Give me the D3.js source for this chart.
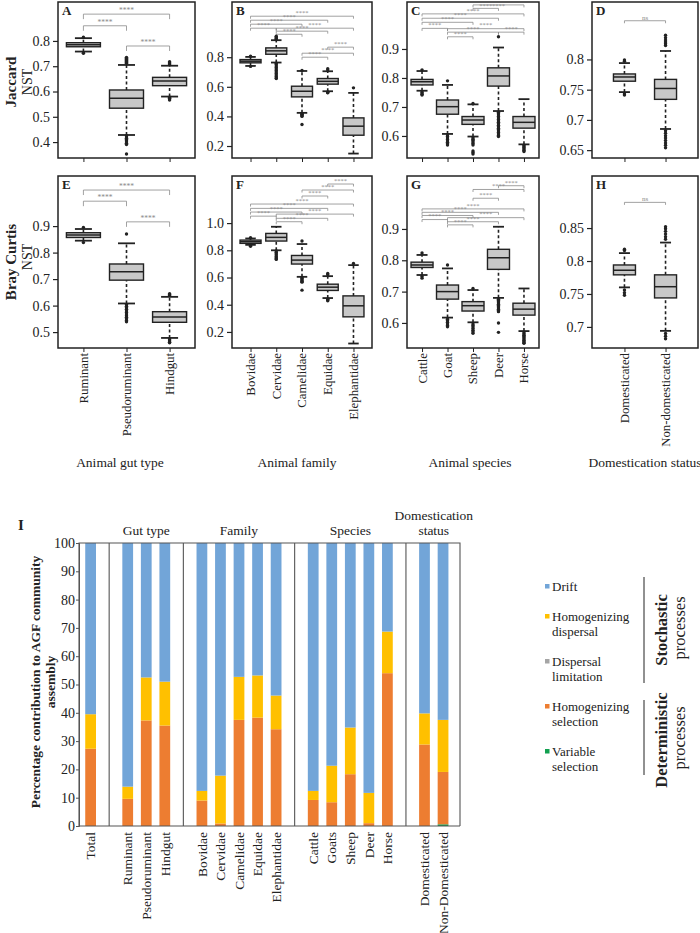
<!DOCTYPE html>
<html>
<head>
<meta charset="utf-8">
<script src="https://cdn.jsdelivr.net/npm/d3@7"></script>
<style>
body{margin:0;background:#fff;}
svg{display:block;font-family:"Liberation Serif","Times New Roman",serif;}
</style>
</head>
<body>
<svg id="fig" width="700" height="933"></svg>
<script>
// ---- categories
var gutTypes = ["Ruminant","Pseudoruminant","Hindgut"];
var families = ["Bovidae","Cervidae","Camelidae","Equidae","Elephantidae"];
var species = ["Cattle","Goat","Sheep","Deer","Horse"];
var domestication = ["Domesticated","Non-domesticated"];

// ---- NST box stats : [low whisker, q1, median, q3, high whisker]
var jacGut = [[0.758,0.777,0.785,0.793,0.811],[0.428,0.534,0.573,0.606,0.705],[0.58,0.623,0.642,0.656,0.702]];
var jacFam = [[0.741,0.762,0.773,0.784,0.802],[0.764,0.82,0.843,0.863,0.915],[0.424,0.532,0.57,0.604,0.707],[0.57,0.618,0.637,0.656,0.705],[0.149,0.273,0.334,0.39,0.559]];
var jacSpe = [[0.756,0.776,0.787,0.795,0.824],[0.607,0.675,0.701,0.724,0.776],[0.598,0.64,0.655,0.667,0.709],[0.686,0.772,0.807,0.835,0.905],[0.571,0.627,0.647,0.667,0.727]];
var jacDom = [[0.746,0.764,0.771,0.776,0.794],[0.685,0.734,0.752,0.767,0.814]];
var brayGut = [[0.845,0.857,0.866,0.875,0.889],[0.608,0.696,0.728,0.757,0.835],[0.478,0.537,0.557,0.577,0.633]];
var brayFam = [[0.84,0.851,0.863,0.875,0.887],[0.80,0.868,0.895,0.924,0.973],[0.605,0.699,0.728,0.762,0.846],[0.449,0.505,0.529,0.551,0.61],[0.115,0.311,0.392,0.465,0.691]];
var braySpe = [[0.753,0.777,0.785,0.794,0.817],[0.617,0.676,0.70,0.721,0.774],[0.602,0.638,0.655,0.668,0.705],[0.68,0.771,0.808,0.835,0.907],[0.574,0.625,0.644,0.663,0.71]];
var brayDom = [[0.76,0.779,0.786,0.794,0.812],[0.694,0.744,0.761,0.779,0.828]];

// ---- outliers
var jacGutOut = [[0.815,0.753,0.751],
  [0.712,0.716,0.72,0.724,0.728,0.732,0.735,0.425,0.42,0.415,0.41,0.405,0.40,0.395,0.39,0.353],
  [0.706,0.71,0.714,0.718,0.577,0.573,0.57,0.566]];
var jacFamOut = [[0.806,0.738],
  [0.92,0.925,0.93,0.936,0.942,0.76,0.75,0.74,0.73,0.72,0.71,0.70,0.69,0.68,0.67,0.66,0.656],
  [0.71,0.42,0.415,0.41,0.405,0.40,0.345],
  [0.713,0.722,0.566,0.562,0.56],
  [0.593]];
var jacSpeOut = [[0.828,0.752,0.748,0.744,0.741],
  [0.79,0.603,0.598,0.593,0.588,0.583,0.578,0.573,0.569],
  [0.712,0.594,0.589,0.584,0.579,0.574,0.569,0.548,0.543,0.538],
  [0.942,0.682,0.677,0.672,0.667,0.662,0.657,0.652,0.647,0.642,0.637,0.632,0.627,0.622,0.617,0.612,0.607,0.602,0.598],
  [0.567,0.563,0.559,0.555,0.551,0.546]];
var jacDomOut = [[0.797,0.799,0.743,0.741],
  [0.823,0.826,0.829,0.832,0.836,0.84,0.682,0.678,0.674,0.67,0.666,0.662,0.658,0.654]];
var brayGutOut = [[0.895,0.838],
  [0.87,0.604,0.598,0.592,0.586,0.58,0.574,0.568,0.562,0.556,0.55,0.544,0.539],
  [0.638,0.642,0.645,0.474,0.47,0.466,0.462,0.46]];
var brayFamOut = [[0.892,0.835,0.83],
  [0.795,0.785,0.775,0.765,0.755,0.745,0.738,0.733],
  [0.868,0.60,0.592,0.584,0.576,0.57,0.566,0.507],
  [0.62,0.63,0.44,0.435,0.429],
  [0.703]];
var braySpeOut = [[0.823,0.748,0.743],
  [0.785,0.612,0.607,0.602,0.597,0.592,0.588],
  [0.71,0.597,0.592,0.587,0.582,0.577,0.572,0.567],
  [0.676,0.672,0.668,0.664,0.66,0.656,0.652,0.648,0.644,0.64,0.636,0.60,0.57],
  [0.569,0.565,0.561,0.557,0.553,0.549,0.545,0.541,0.537,0.535]];
var brayDomOut = [[0.816,0.818,0.756,0.752,0.748],
  [0.833,0.837,0.841,0.845,0.849,0.852,0.69,0.686,0.682]];

// ---- significance : [group i, group j, level, label]
var jacGutSig = [[0,2,0.906,"****"],[0,1,0.86,"****"],[1,2,0.78,"****"]];
var jacFamSig = [[0,4,1.077,"****"],[0,3,1.05,"****"],[0,2,1.023,"****"],[0,1,0.996,"****"],[1,4,0.996,"****"],
  [1,3,0.976,"****"],[1,2,0.955,"****"],[3,4,0.868,"****"],[2,4,0.827,"****"],[2,3,0.80,"****"]];
var jacSpeSig = [[2,4,1.052,"****"],[2,3,1.04,"****"],[0,4,1.021,"****"],[0,3,1.006,"****"],[0,2,0.992,"****"],
  [0,1,0.971,"****"],[1,4,0.970,"****"],[1,3,0.958,"****"],[3,4,0.958,"****"],[1,2,0.942,"****"]];
var jacDomSig = [[0,1,0.864,"ns"]];
var brayGutSig = [[0,2,1.036,"****"],[0,1,0.994,"****"],[1,2,0.916,"****"]];
var brayFamSig = [[3,4,1.287,"****"],[2,4,1.243,"****"],[2,3,1.199,"****"],[0,4,1.14,"****"],[0,3,1.108,"****"],
  [0,2,1.081,"****"],[1,4,1.066,"****"],[0,1,1.051,"****"],[1,3,1.035,"****"],[1,2,1.01,"****"]];
var braySpeSig = [[3,4,1.038,"****"],[2,4,1.026,"****"],[2,3,0.998,"****"],[0,4,0.964,"****"],[0,3,0.953,"****"],
  [0,2,0.943,"****"],[1,4,0.936,"****"],[0,1,0.93,"****"],[1,3,0.923,"****"],[1,2,0.913,"****"]];
var brayDomSig = [[0,1,0.889,"ns"]];

// ---- y ticks
var ticksGut = [0.4,0.5,0.6,0.7,0.8];
var ticksFam = [0.2,0.4,0.6,0.8];
var ticksSpe = [0.6,0.7,0.8,0.9];
var ticksDom = [0.65,0.7,0.75,0.8];
var ticksGut2 = [0.5,0.6,0.7,0.8,0.9];
var ticksFam2 = [0.2,0.4,0.6,0.8,1.0];
var ticksDom2 = [0.7,0.75,0.8,0.85];

// ---- panel I : % contribution
var barGroups = [["Total"],["Ruminant","Pseudoruminant","Hindgut"],
  ["Bovidae","Cervidae","Camelidae","Equidae","Elephantidae"],
  ["Cattle","Goats","Sheep","Deer","Horse"],["Domesticated","Non-Domesticated"]];
var groupTitles = [[],["Gut type"],["Family"],["Species"],["Domestication","status"]];
var barCats = ["Total","Ruminant","Pseudoruminant","Hindgut","Bovidae","Cervidae","Camelidae","Equidae","Elephantidae",
  "Cattle","Goats","Sheep","Deer","Horse","Domesticated","Non-Domesticated"];
var varSel  = [0,0,0,0,0,0,0,0,0,0,0,0,0,0,0,0.6];
var homSel  = [27.3,9.6,37.3,35.5,9.0,0.9,37.5,38.3,34.2,9.2,8.4,18.3,1.0,54.0,28.8,18.5];
var dispLim = [0,0,0,0,0,0,0,0,0,0,0,0,0,0,0,0];
var homDisp = [12.2,4.3,15.2,15.5,3.4,16.9,15.2,14.9,11.9,3.2,12.9,16.5,10.7,14.7,11.0,18.4];
var drift   = [60.5,86.1,47.5,49.0,87.6,82.2,47.3,46.8,53.9,87.6,78.7,65.2,88.3,31.3,60.2,62.5];
var barTicks = [0,10,20,30,40,50,60,70,80,90,100];

var legendKeys = ["drift","homDisp","dispLim","homSel","varSel"];
var legendLabels = [["Drift"],["Homogenizing","dispersal"],["Dispersal","limitation"],["Homogenizing","selection"],["Variable","selection"]];
var colors = {drift:"#72a5d8", homDisp:"#ffc000", dispLim:"#a5a5a5", homSel:"#ed7d31", varSel:"#12a050"};

var svg = d3.select("#fig");
var ink = "#222";

// mise en page des panneaux
var colLayout = [
  {x0:58, x1:195, pad:0.59, boxW:34, drop:5, star:7.5},
  {x0:232, x1:372, pad:0.72, boxW:21, drop:2.5, star:6.5},
  {x0:407, x1:539, pad:0.59, boxW:22, drop:2.5, star:6.5},
  {x0:592, x1:698, pad:0.79, boxW:22, drop:2.5, star:7}
];
var rowLayout = [{y0:2, y1:158},{y0:176, y1:348}];

var panels = [
  {lab:"A",row:0,col:0,cats:gutTypes,st:jacGut,out:jacGutOut,sig:jacGutSig,dom:[0.337,0.954],ticks:ticksGut,fmt:".1f"},
  {lab:"B",row:0,col:1,cats:families,st:jacFam,out:jacFamOut,sig:jacFamSig,dom:[0.119,1.173],ticks:ticksFam,fmt:".1f"},
  {lab:"C",row:0,col:2,cats:species,st:jacSpe,out:jacSpeOut,sig:jacSpeSig,dom:[0.524,1.062],ticks:ticksSpe,fmt:".1f"},
  {lab:"D",row:0,col:3,cats:domestication,st:jacDom,out:jacDomOut,sig:jacDomSig,dom:[0.637,0.895],ticks:ticksDom,fmt:null},
  {lab:"E",row:1,col:0,cats:gutTypes,st:brayGut,out:brayGutOut,sig:brayGutSig,dom:[0.44,1.089],ticks:ticksGut2,fmt:".1f"},
  {lab:"F",row:1,col:1,cats:families,st:brayFam,out:brayFamOut,sig:brayFamSig,dom:[0.082,1.346],ticks:ticksFam2,fmt:".1f"},
  {lab:"G",row:1,col:2,cats:species,st:braySpe,out:braySpeOut,sig:braySpeSig,dom:[0.52,1.069],ticks:ticksSpe,fmt:".1f"},
  {lab:"H",row:1,col:3,cats:domestication,st:brayDom,out:brayDomOut,sig:brayDomSig,dom:[0.668,0.929],ticks:ticksDom2,fmt:null}
];

function drawPanel(p){
  var c = colLayout[p.col], r = rowLayout[p.row];
  var g = svg.append("g");
  var x = d3.scalePoint().domain(p.cats).range([c.x0,c.x1]).padding(c.pad);
  var y = d3.scaleLinear().domain(p.dom).range([r.y1,r.y0]);
  var fmt = p.fmt ? d3.format(p.fmt) : function(d){return String(d);};

  // axes
  var ya = g.append("g").attr("transform","translate("+c.x0+",0)")
    .call(d3.axisLeft(y).tickValues(p.ticks).tickSize(5).tickPadding(3).tickFormat(fmt));
  ya.select(".domain").remove();
  ya.attr("font-family",null).attr("font-size",14);
  ya.selectAll("line").attr("stroke",ink).attr("stroke-width",1.2);
  ya.selectAll("text").attr("fill",ink);

  var xa = g.append("g").attr("transform","translate(0,"+r.y1+")")
    .call(d3.axisBottom(x).tickSize(4).tickFormat(""));
  xa.select(".domain").remove();
  xa.selectAll("line").attr("stroke",ink).attr("stroke-width",1);

  if(p.row==1){
    g.selectAll(".xlab").data(p.cats).enter().append("text")
      .attr("transform",function(d){return "translate("+x(d)+","+(r.y1+5)+") rotate(-90)";})
      .attr("dy","0.35em").attr("text-anchor","end").attr("font-size",12.8).attr("fill",ink)
      .text(function(d){return d;});
  }

  // brackets
  p.sig.forEach(function(s){
    var xa1 = x(p.cats[s[0]]), xa2 = x(p.cats[s[1]]), yy = y(s[2]);
    g.append("path").attr("d","M"+xa1+","+(yy+c.drop)+"V"+yy+"H"+xa2+"V"+(yy+c.drop))
      .attr("fill","none").attr("stroke","#8a8a8a").attr("stroke-width",0.8);
    g.append("text").attr("x",(xa1+xa2)/2).attr("y",Math.max(yy-1.2,r.y0+6)).attr("text-anchor","middle")
      .attr("font-size",c.star).attr("fill","#8a8a8a").text(s[3]);
  });

  // boxes
  p.cats.forEach(function(cat,i){
    var s = p.st[i], cx = x(cat), w = c.boxW;
    g.append("line").attr("x1",cx).attr("x2",cx).attr("y1",y(s[0])).attr("y2",y(s[1]))
      .attr("stroke",ink).attr("stroke-width",1.6).attr("stroke-dasharray","3,2.5");
    g.append("line").attr("x1",cx).attr("x2",cx).attr("y1",y(s[3])).attr("y2",y(s[4]))
      .attr("stroke",ink).attr("stroke-width",1.6).attr("stroke-dasharray","3,2.5");
    [s[0],s[4]].forEach(function(v){
      g.append("line").attr("x1",cx-w/4).attr("x2",cx+w/4).attr("y1",y(v)).attr("y2",y(v))
        .attr("stroke",ink).attr("stroke-width",1.8);
    });
    g.append("rect").attr("x",cx-w/2).attr("y",y(s[3])).attr("width",w).attr("height",y(s[1])-y(s[3]))
      .attr("fill","#c8c8c8").attr("stroke",ink).attr("stroke-width",1.4);
    g.append("line").attr("x1",cx-w/2).attr("x2",cx+w/2).attr("y1",y(s[2])).attr("y2",y(s[2]))
      .attr("stroke",ink).attr("stroke-width",1.5);
    g.selectAll(null).data(p.out[i]).enter().append("circle")
      .attr("cx",cx).attr("cy",function(d){return y(d);}).attr("r",1.7).attr("fill",ink);
  });

  // cadre + lettre
  g.append("rect").attr("x",c.x0).attr("y",r.y0).attr("width",c.x1-c.x0).attr("height",r.y1-r.y0)
    .attr("fill","none").attr("stroke",ink).attr("stroke-width",1.5);
  g.append("text").attr("x",c.x0+4).attr("y",r.y0+13).attr("font-size",13).attr("font-weight","bold")
    .attr("fill",ink).text(p.lab);
}

panels.forEach(drawPanel);

// titres lignes / colonnes
function vtext(txt,x,y,size,bold){
  svg.append("text").attr("transform","translate("+x+","+y+") rotate(-90)").attr("text-anchor","middle")
    .attr("font-size",size).attr("font-weight",bold?"bold":"normal").attr("fill",ink).text(txt);
}
vtext("Jaccard",16,82,15,true);
vtext("NST",32,82,14,false);
vtext("Bray Curtis",16,262,15,true);
vtext("NST",32,257,14,false);

var colTitles = ["Animal gut type","Animal family","Animal species","Domestication status"];
var colTitleX = [120,297,470,645];
colTitles.forEach(function(t,i){
  svg.append("text").attr("x",colTitleX[i]).attr("y",467).attr("text-anchor","middle")
    .attr("font-size",13.5).attr("fill",ink).text(t);
});

// ---- panel I
var slots = [];
barGroups.forEach(function(gr,i){
  if(i>0) slots.push("_sep"+i);
  gr.forEach(function(d){slots.push(d);});
});
var xb = d3.scaleBand().domain(slots).range([79,460]).paddingInner(0.42).paddingOuter(0.48).align(0.35);
var yb = d3.scaleLinear().domain([0,100]).range([826,543]);

var rows = barCats.map(function(c,i){
  return {cat:c, varSel:varSel[i], homSel:homSel[i], dispLim:dispLim[i], homDisp:homDisp[i], drift:drift[i]};
});
var stacked = d3.stack().keys(["varSel","homSel","dispLim","homDisp","drift"])(rows);

var gb = svg.append("g");
gb.selectAll(".layer").data(stacked).enter().append("g")
  .attr("fill",function(d){return colors[d.key];})
  .selectAll("rect").data(function(d){return d;}).enter().append("rect")
  .attr("x",function(d){return xb(d.data.cat);})
  .attr("width",xb.bandwidth())
  .attr("y",function(d){return yb(d[1]);})
  .attr("height",function(d){return yb(d[0])-yb(d[1]);});

// separateurs + cadre
slots.filter(function(s){return s.indexOf("_sep")==0;}).forEach(function(s){
  var sx = xb(s)+xb.bandwidth()/2;
  gb.append("line").attr("x1",sx).attr("x2",sx).attr("y1",543).attr("y2",826).attr("stroke","#555").attr("stroke-width",1.1);
});
gb.append("path").attr("d","M79,826V543H460V826").attr("fill","none").attr("stroke","#555").attr("stroke-width",1.1);

var yba = gb.append("g").attr("transform","translate(79,0)")
  .call(d3.axisLeft(yb).tickValues(barTicks).tickSize(3).tickPadding(1));
yba.attr("font-family",null).attr("font-size",14);
yba.select(".domain").attr("stroke","#555");
yba.selectAll("line").attr("stroke","#555");
yba.selectAll("text").attr("fill",ink);
gb.append("line").attr("x1",79).attr("x2",460).attr("y1",826).attr("y2",826).attr("stroke","#555").attr("stroke-width",1.1);

gb.selectAll(".blab").data(barCats).enter().append("text")
  .attr("transform",function(d){return "translate("+(xb(d)+xb.bandwidth()/2)+",832) rotate(-90)";})
  .attr("dy","0.35em").attr("text-anchor","end").attr("font-size",13.5).attr("fill",ink)
  .text(function(d){return d;});

// titres des groupes
barGroups.forEach(function(gr,i){
  var t = groupTitles[i];
  if(!t.length) return;
  var cx = (xb(gr[0])+xb(gr[gr.length-1])+xb.bandwidth())/2;
  t.forEach(function(line,k){
    gb.append("text").attr("x",cx).attr("y",535-(t.length-1-k)*15).attr("text-anchor","middle")
      .attr("font-size",13.5).attr("fill",ink).text(line);
  });
});

svg.append("text").attr("x",18).attr("y",530).attr("font-size",15).attr("font-weight","bold").attr("fill",ink).text("I");
vtext("Percentage contribution to AGF community",40,682,13.5,true);
vtext("assembly",55,682,13.5,true);

// legende
var ly = 586;
legendKeys.forEach(function(k,i){
  var lines = legendLabels[i];
  svg.append("rect").attr("x",545).attr("y",ly-2).attr("width",4.5).attr("height",4.5).attr("fill",colors[k]);
  lines.forEach(function(l,j){
    svg.append("text").attr("x",552).attr("y",ly+4.5+j*15).attr("font-size",13).attr("fill",ink).text(l);
  });
  ly += lines.length*15+15;
});
svg.append("line").attr("x1",644).attr("x2",644).attr("y1",577).attr("y2",683).attr("stroke",ink).attr("stroke-width",1);
svg.append("line").attr("x1",644).attr("x2",644).attr("y1",700).attr("y2",775).attr("stroke",ink).attr("stroke-width",1);
vtext("Stochastic",667,630,16.5,true);
vtext("processes",685,628,16.5,false);
vtext("Deterministic",667,740,16.5,true);
vtext("processes",685,738,16.5,false);
</script>
</body>
</html>
